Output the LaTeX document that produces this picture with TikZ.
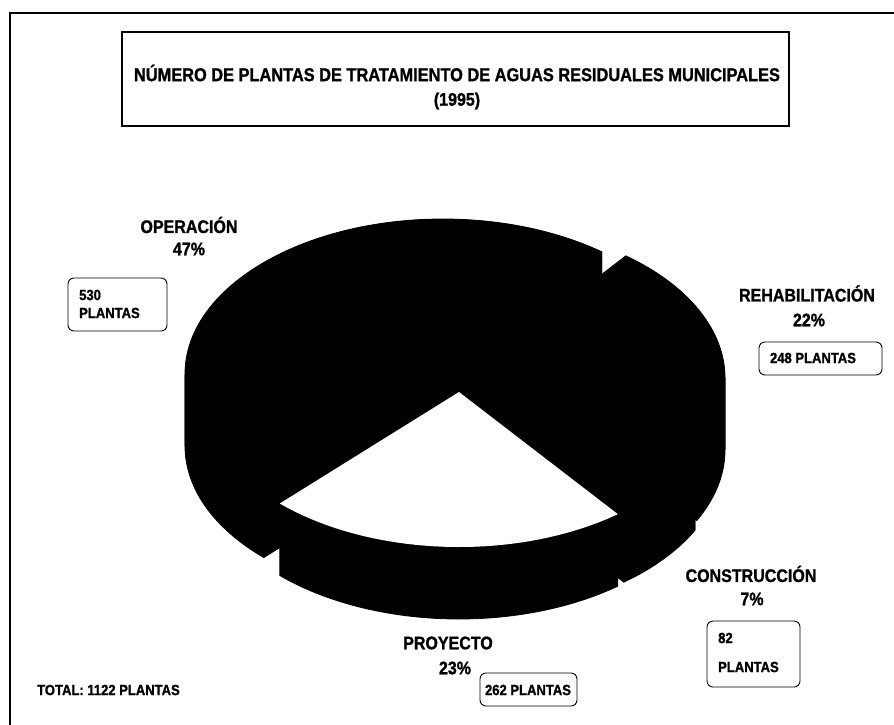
\documentclass[tikz,border=0pt]{standalone}
\usepackage{fontspec}
\setmainfont{Liberation Sans}
\newfontfamily\chartfont[FakeStretch=0.88,FakeBold=1.2]{Liberation Sans Bold}
% pieces of the 3D pie (radii 258 x 155, thickness 72), each given with its own centre
\newcommand\piewalls[4]{% centre x, centre y, start angle, end angle
  \begin{scope}[shift={(#1,#2)}]
    \filldraw[solid part] (0,0) -- (#3:258 and 155) -- ++(0,72) -- (0,72) -- cycle;
    \filldraw[solid part] (0,0) -- (#4:258 and 155) -- ++(0,72) -- (0,72) -- cycle;
  \end{scope}}
\newcommand\pierim[4]{% outer wall between two angles (x monotone between them)
  \begin{scope}[shift={(#1,#2)}]
    \filldraw[solid part] (#3:258 and 155) arc[start angle=#3,end angle=#4,x radius=258,y radius=155]
      -- ++(0,72) arc[start angle=#4,end angle=#3,x radius=258,y radius=155] -- cycle;
  \end{scope}}
\newcommand\pietop[5]{% top face
  \begin{scope}[shift={(#1,#2)}]
    \path[fill=#5] (0,0) -- (#3:258 and 155) arc[start angle=#3,end angle=#4,x radius=258,y radius=155] -- cycle;
  \end{scope}}
\begin{document}
\begin{tikzpicture}[x=1pt,y=-1pt,
  solid part/.style={fill=black,draw=black,line width=0.8pt,line join=round},
  lbl/.style={font=\chartfont\fontsize{18.2}{20}\selectfont,inner sep=0pt},
  small/.style={font=\chartfont\fontsize{14.8}{17}\selectfont,inner sep=0pt},
  countbox/.style={draw,line width=0.9pt,rounded corners=6pt,inner sep=0pt}]
\useasboundingbox (0,0) rectangle (894,724);
\clip (0,0) rectangle (894,724);

% outer frame
\draw[line width=1.6pt] (10,740) -- (10,13) -- (910,13);

% title
\node[draw,line width=1.4pt,minimum width=667pt,minimum height=94pt,inner sep=0pt] (titlebox) at (455.5,79) {};
\node[lbl,font=\chartfont\fontsize{18.6}{20}\selectfont] (title1) at (457,73) {NÚMERO DE PLANTAS DE TRATAMIENTO DE AGUAS RESIDUALES MUNICIPALES};
\node[lbl] (title2) at (457,101) {(1995)};

% pie: operación
\piewalls{443}{374}{134}{308}
\pierim{443}{374}{134}{180}
\pierim{443}{374}{180}{308}
\pietop{443}{374}{134}{308}{black}
% rehabilitación
\piewalls{467}{378}{308}{387}
\pierim{467}{378}{308}{360}
\pierim{467}{378}{360}{387}
\pietop{467}{378}{308}{387}{black}
% construcción
\piewalls{465}{388}{27}{52}
\pierim{465}{388}{27}{52}
\pietop{465}{388}{27}{52}{black}
% proyecto (front slice, white top)
\pierim{459}{392}{52}{134}
\pietop{459}{392}{52}{134}{white}

% labels
\node[lbl] (oper) at (189,225) {OPERACIÓN};
\node[lbl] (operpc) at (189,249) {47\%};
\node[countbox,minimum width=99pt,minimum height=53pt] (box530) at (117.5,304.5) {};
\node[small,anchor=west] (n530) at (79,295) {530};
\node[small,anchor=west] (p530) at (79,313) {PLANTAS};

\node[lbl] (rehab) at (807,293.5) {REHABILITACIÓN};
\node[lbl] (rehabpc) at (809,320) {22\%};
\node[countbox,minimum width=123pt,minimum height=33pt] (box248) at (820.5,358.5) {};
\node[small] (t248) at (813,358) {248 PLANTAS};

\node[lbl] (constr) at (751,574) {CONSTRUCCIÓN};
\node[lbl] (constrpc) at (752,599) {7\%};
\node[countbox,minimum width=93pt,minimum height=66pt] (box82) at (753.5,654) {};
\node[small,anchor=west] (n82) at (718,638) {82};
\node[small,anchor=west] (p82) at (718,667) {PLANTAS};

\node[lbl] (proy) at (448,643) {PROYECTO};
\node[lbl] (proypc) at (455,668) {23\%};
\node[countbox,minimum width=97pt,minimum height=33pt] (box262) at (528.5,689.5) {};
\node[small] (t262) at (528,690) {262 PLANTAS};

\node[small,anchor=west] (total) at (37,690) {TOTAL: 1122 PLANTAS};
\end{tikzpicture}
\end{document}
